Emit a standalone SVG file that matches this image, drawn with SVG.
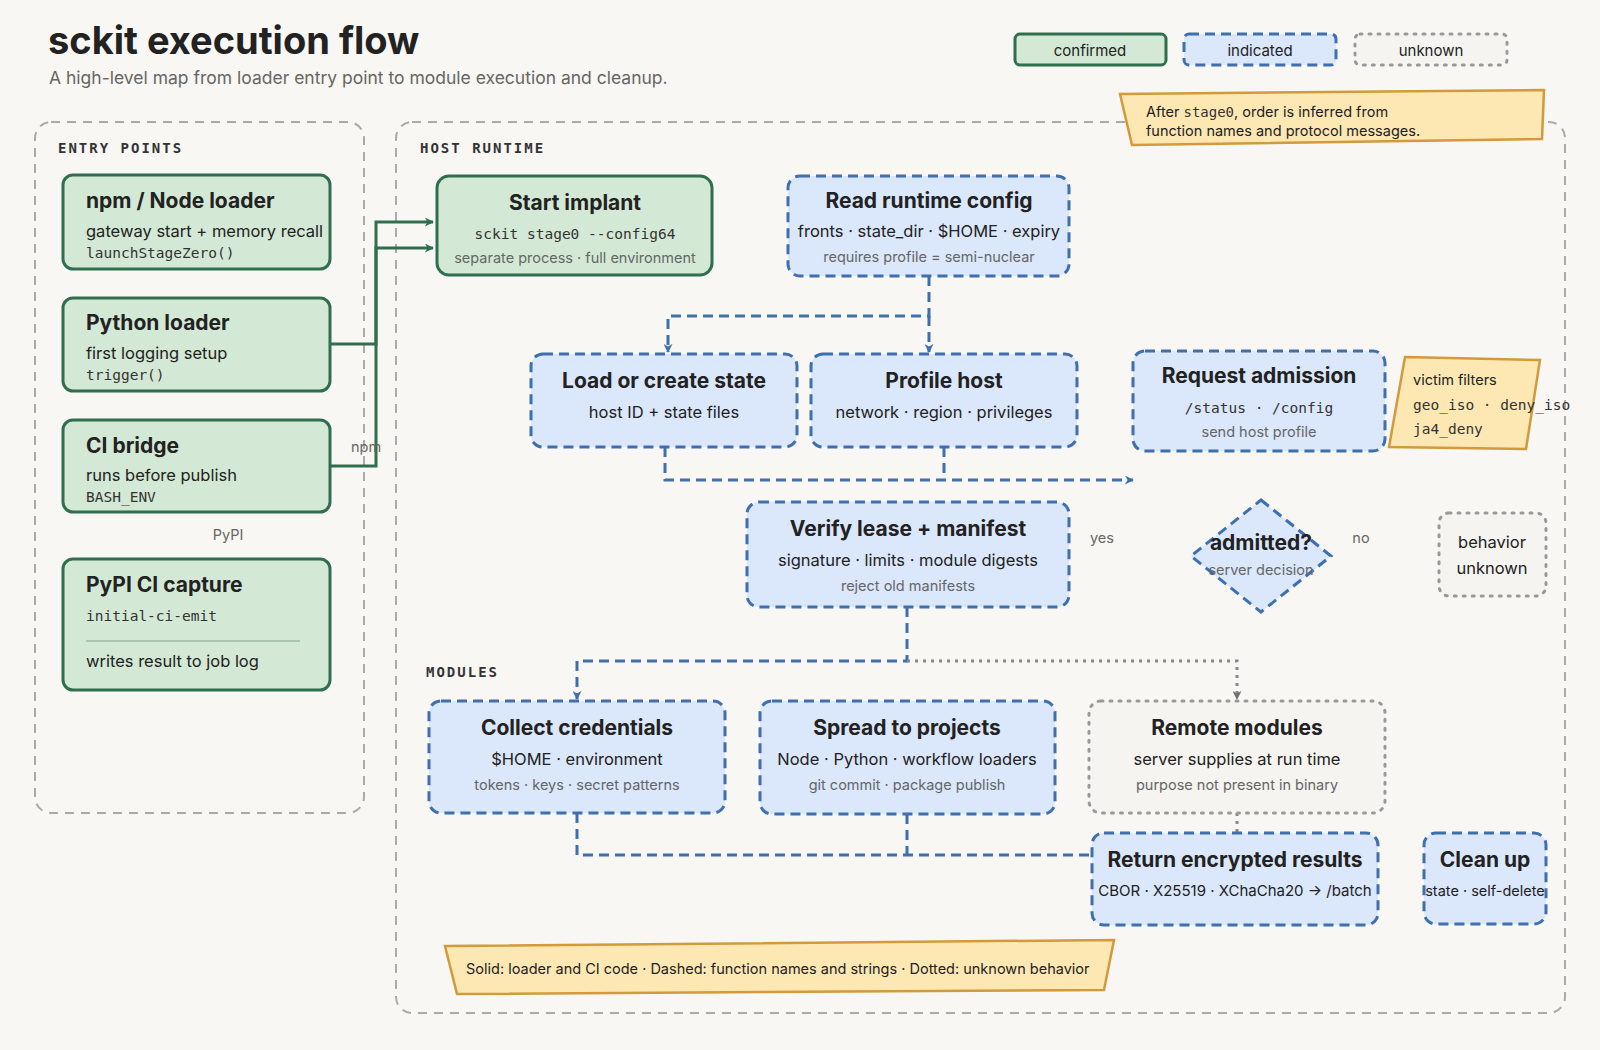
<svg xmlns="http://www.w3.org/2000/svg" width="1600" height="1050" viewBox="0 0 1600 1050">
<style>
text{font-family:Inter,"Noto Sans","Liberation Sans",sans-serif;fill:#222}
.t{font-size:21px;font-weight:700;text-anchor:middle}
.tl{font-size:21px;font-weight:700}
.s{font-size:16.5px;text-anchor:middle}
.sl{font-size:16.5px}
.m{font-family:"DejaVu Sans Mono","Liberation Mono",monospace;font-size:14.5px;fill:#333}
.g{font-size:14.5px;fill:#666;text-anchor:middle}
.lab{font-family:"DejaVu Sans Mono","Liberation Mono",monospace;font-size:14px;font-weight:700;letter-spacing:2px;fill:#333}
.gr{fill:#d3e9d5;stroke:#2f6e4e;stroke-width:3}
.bl{fill:#dbe7fb;stroke:#3e6fae;stroke-width:3;stroke-dasharray:10 6}
.un{fill:#f5f4f0;stroke:#999;stroke-width:3;stroke-dasharray:2 7;stroke-linecap:round}
.nt{fill:#fde8b4;stroke:#d29a3a;stroke-width:2.5}
.pan{fill:none;stroke:#aaa;stroke-width:2;stroke-dasharray:9 7}
.cg{fill:none;stroke:#2f6e4e;stroke-width:3}
.cb{fill:none;stroke:#3e6fae;stroke-width:3;stroke-dasharray:10 6}
.cu{fill:none;stroke:#888;stroke-width:3;stroke-dasharray:3 5}
.sm{font-size:14.5px;fill:#666}
</style>
<defs>
<marker id="ag" viewBox="0 0 10 10" refX="9" refY="5" markerWidth="9" markerHeight="9" markerUnits="userSpaceOnUse" orient="auto"><path d="M0,0L10,5L0,10L3,5z" fill="#2f6e4e"/></marker>
<marker id="ab" viewBox="0 0 10 10" refX="9" refY="5" markerWidth="9" markerHeight="9" orient="auto" markerUnits="userSpaceOnUse"><path d="M0,0L10,5L0,10L3,5z" fill="#3e6fae"/></marker>
<marker id="au" viewBox="0 0 10 10" refX="9" refY="5" markerWidth="9" markerHeight="9" orient="auto" markerUnits="userSpaceOnUse"><path d="M0,0L10,5L0,10L3,5z" fill="#707070"/></marker>
</defs>
<rect width="1600" height="1050" fill="#f8f7f3"/>
<text x="48" y="54" style="font-size:38px;font-weight:700">sckit execution flow</text>
<text x="49" y="84" style="font-size:17.5px;fill:#666">A high-level map from loader entry point to module execution and cleanup.</text>
<g id="legend">
<rect x="1015" y="34" width="151" height="31" rx="5" class="gr"/><text x="1090" y="56" class="s" style="font-size:15px">confirmed</text>
<rect x="1184" y="34" width="152" height="31" rx="5" class="bl"/><text x="1260" y="56" class="s" style="font-size:15px">indicated</text>
<rect x="1355" y="34" width="152" height="31" rx="5" class="un"/><text x="1431" y="56" class="s" style="font-size:15px">unknown</text>
</g>
<rect x="35" y="122" width="329" height="691" rx="16" class="pan"/>
<rect x="396" y="122" width="1169" height="891" rx="16" class="pan"/>
<text x="58" y="153" class="lab">ENTRY POINTS</text>
<text x="420" y="153" class="lab">HOST RUNTIME</text>
<text x="426" y="677" class="lab">MODULES</text>
<g id="note-top"><path d="M1120,94L1544,90L1542,139L1132,145Z" class="nt"/>
<text x="1146" y="117" style="font-size:14.5px">After <tspan class="m" style="font-size:14px">stage0</tspan>, order is inferred from</text>
<text x="1146" y="136" style="font-size:14.5px">function names and protocol messages.</text></g>
<g id="connectors">
<path d="M330,466H376V222H433" class="cg" marker-end="url(#ag)"/>
<path d="M330,344H376V248H433" class="cg" marker-end="url(#ag)"/>
<path d="M929,276V316H668V352" class="cb" marker-end="url(#ab)"/>
<path d="M929,316V352" class="cb" marker-end="url(#ab)"/>
<path d="M665,447V480H1133" class="cb" marker-end="url(#ab)"/>
<path d="M944,447V480" class="cb"/>
<path d="M907,607V661H577V699" class="cb" marker-end="url(#ab)"/>
<path d="M907,661H1237V699" class="cu" marker-end="url(#au)"/>
<path d="M577,813V855H1092" class="cb"/>
<path d="M907,814V855" class="cb"/>
<path d="M1237,813V833" class="cu"/>
</g>
<text x="351" y="452" class="sm" style="fill:#666">npm</text>
<text x="228" y="540" class="g">PyPI</text>
<text x="1102" y="543" class="g">yes</text>
<text x="1361" y="543" class="g">no</text>
<g id="npm"><rect x="63" y="175" width="267" height="94" rx="10" class="gr"/>
<text x="86" y="208" class="tl">npm / Node loader</text><text x="86" y="237" class="sl">gateway start + memory recall</text><text x="86" y="258" class="m">launchStageZero()</text></g>
<g id="python"><rect x="63" y="298" width="267" height="93" rx="10" class="gr"/>
<text x="86" y="330" class="tl">Python loader</text><text x="86" y="359" class="sl">first logging setup</text><text x="86" y="380" class="m">trigger()</text></g>
<g id="ci"><rect x="63" y="420" width="267" height="92" rx="10" class="gr"/>
<text x="86" y="453" class="tl">CI bridge</text><text x="86" y="481" class="sl">runs before publish</text><text x="86" y="502" class="m">BASH_ENV</text></g>
<g id="pypi"><rect x="63" y="559" width="267" height="131" rx="10" class="gr"/>
<text x="86" y="592" class="tl">PyPI CI capture</text><text x="86" y="621" class="m">initial-ci-emit</text>
<line x1="86" y1="641" x2="300" y2="641" stroke="#9bb8a2" stroke-width="1.5"/>
<text x="86" y="667" class="sl">writes result to job log</text></g>
<g id="start"><rect x="437" y="176" width="275" height="99" rx="12" class="gr"/>
<text x="575" y="210" class="t">Start implant</text><text x="575" y="239" class="m" text-anchor="middle">sckit stage0 --config64</text><text x="575" y="263" class="g">separate process · full environment</text></g>
<g id="readcfg"><rect x="788" y="176" width="281" height="100" rx="12" class="bl"/>
<text x="929" y="208" class="t">Read runtime config</text><text x="929" y="237" class="s">fronts · state_dir · $HOME · expiry</text><text x="929" y="262" class="g">requires profile = semi-nuclear</text></g>
<g id="loadstate"><rect x="531" y="354" width="266" height="93" rx="12" class="bl"/>
<text x="664" y="388" class="t">Load or create state</text><text x="664" y="418" class="s">host ID + state files</text></g>
<g id="profile"><rect x="811" y="354" width="266" height="93" rx="12" class="bl"/>
<text x="944" y="388" class="t">Profile host</text><text x="944" y="418" class="s">network · region · privileges</text></g>
<g id="admission"><rect x="1133" y="351" width="252" height="100" rx="12" class="bl"/>
<text x="1259" y="383" class="t">Request admission</text><text x="1259" y="413" class="m" text-anchor="middle">/status · /config</text><text x="1259" y="437" class="g">send host profile</text></g>
<g id="filters"><path d="M1405,357L1540,360L1526,449L1389,447Z" class="nt"/>
<text x="1413" y="385" style="font-size:14.5px">victim filters</text><text x="1413" y="410" class="m">geo_iso · deny_iso</text><text x="1413" y="434" class="m">ja4_deny</text></g>
<g id="verify"><rect x="747" y="502" width="322" height="105" rx="12" class="bl"/>
<text x="908" y="536" class="t">Verify lease + manifest</text><text x="908" y="566" class="s">signature · limits · module digests</text><text x="908" y="591" class="g">reject old manifests</text></g>
<g id="admitted"><path d="M1261,500L1331,556L1261,612L1191,556Z" class="bl"/>
<text x="1261" y="550" class="t">admitted?</text><text x="1261" y="575" class="g">server decision</text></g>
<g id="unknownb"><rect x="1439" y="513" width="107" height="83" rx="10" class="un"/>
<text x="1492" y="548" class="s">behavior</text><text x="1492" y="574" class="s">unknown</text></g>
<g id="collect"><rect x="429" y="701" width="296" height="112" rx="12" class="bl"/>
<text x="577" y="735" class="t">Collect credentials</text><text x="577" y="765" class="s">$HOME · environment</text><text x="577" y="790" class="g">tokens · keys · secret patterns</text></g>
<g id="spread"><rect x="760" y="701" width="295" height="113" rx="12" class="bl"/>
<text x="907" y="735" class="t">Spread to projects</text><text x="907" y="765" class="s">Node · Python · workflow loaders</text><text x="907" y="790" class="g">git commit · package publish</text></g>
<g id="remote"><rect x="1089" y="701" width="296" height="112" rx="12" class="un"/>
<text x="1237" y="735" class="t">Remote modules</text><text x="1237" y="765" class="s">server supplies at run time</text><text x="1237" y="790" class="g">purpose not present in binary</text></g>
<g id="return"><rect x="1092" y="833" width="286" height="92" rx="12" class="bl"/>
<text x="1235" y="867" class="t">Return encrypted results</text><text x="1235" y="896" class="s" style="font-size:15px">CBOR · X25519 · XChaCha20 → /batch</text></g>
<g id="cleanup"><rect x="1424" y="833" width="122" height="91" rx="12" class="bl"/>
<text x="1485" y="867" class="t">Clean up</text><text x="1485" y="896" class="s" style="font-size:14.5px">state · self-delete</text></g>
<g id="note-bottom"><path d="M445,946L1114,940L1104,990L457,994Z" class="nt"/>
<text x="466" y="974" style="font-size:14.5px">Solid: loader and CI code · Dashed: function names and strings · Dotted: unknown behavior</text></g>
</svg>
